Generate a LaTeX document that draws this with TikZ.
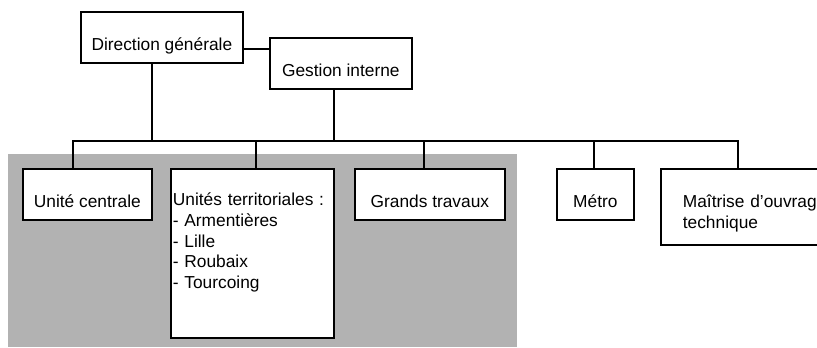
\documentclass[tikz,border=0pt]{standalone}
\usepackage{fontspec}
\setmainfont{Liberation Sans}
\usetikzlibrary{positioning}
\definecolor{fondgris}{RGB}{178,178,178}

\begin{document}
\begin{tikzpicture}[
        x=0.75pt, y=-0.75pt,
        every node/.style={font=\fontsize{13pt}{15.5pt}\selectfont},
        box/.style={draw, line width=1.3pt, fill=white, anchor=north west, inner xsep=0pt, inner ysep=0pt, text height=29.25pt, text depth=9pt},
        line/.style={line width=1.2pt, line cap=rect}
    ]
        \useasboundingbox (0,0) rectangle (817,347);
        \clip (0,0) rectangle (817,347);

        % zone grisée
        \fill[fondgris] (8,154) rectangle (517,347);

        % direction
        \node[box, minimum width=121.5pt] (dg) at (80,11) {Direction générale};
        \node[box, minimum width=106.5pt] (gi) at (269,37) {Gestion interne};

        % services
        \node[box, minimum width=96.75pt] (uc) at (22,168) {Unité centrale};
        \node[box, text width=119.25pt, inner xsep=1.5pt, align=left, text height=27.75pt, text depth=99pt] (ut) at (170,168) {Unités territoriales :\\- Armentières\\- Lille\\- Roubaix\\- Tourcoing};
        \node[box, minimum width=112.5pt] (gt) at (354,168) {Grands travaux};
        \node[box, minimum width=57.75pt] (me) at (556,168) {Métro};
        \node[box, text width=112.5pt, inner xsep=16.5pt, align=left, text depth=27.75pt] (mo) at (660,168) {Maîtrise d’ouvrage\\technique};

        % liaisons
        \coordinate (lien) at (255,49);
        \draw[line] (lien -| dg.east) -- (lien -| gi.west);
        \coordinate (dg-bas) at (152,141);
        \coordinate (gi-bas) at (334,141);
        \draw[line] (dg-bas |- dg.south) -- (dg-bas);
        \draw[line] (gi-bas |- gi.south) -- (gi-bas);
        \coordinate (bus-g) at (73,141);
        \coordinate (bus-d) at (738,141);
        \draw[line] (bus-g) -- (bus-d);
        \foreach \n/\x in {uc/73, ut/256, gt/424, me/594, mo/738} {
            \coordinate (b-\n) at (\x,141);
            \draw[line] (b-\n) -- (b-\n |- \n.north);
        }
    \end{tikzpicture}
\end{document}
